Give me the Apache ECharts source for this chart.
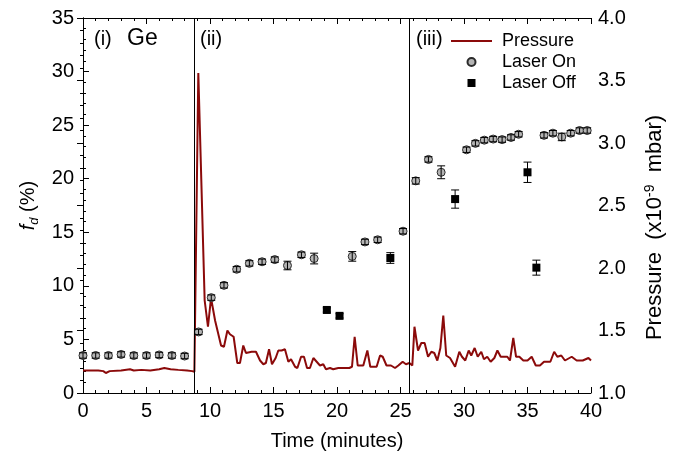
<!DOCTYPE html>
<html><head><meta charset="utf-8">
<script src="https://cdn.jsdelivr.net/npm/echarts@6/dist/echarts.min.js"></script>
<style>html,body{margin:0;padding:0;background:#fff}#c{width:679px;height:461px}</style>
</head><body><div id="c"></div>
<script>
const FONT = "'Liberation Sans', Arial, Helvetica, sans-serif";

// Pressure trace (time in minutes, pressure in 1e-9 mbar)
const pressureTime = [0,0.8,1.2,1.6,1.8,2.1,3.0,3.7,4.0,4.6,5.3,6.0,6.4,6.9,7.5,8.2,8.6,8.77,
  9.08,9.58,9.84,10.08,10.4,10.87,11.1,11.37,11.57,11.86,12.15,12.36,12.62,12.83,13.28,13.62,13.94,14.2,14.4,14.65,14.88,
  15.17,15.38,15.64,15.9,16.17,16.38,16.7,16.88,17.17,17.4,17.64,17.87,18.14,18.4,18.66,18.92,19.13,19.45,19.7,20.1,20.5,
  20.97,21.18,21.39,21.63,22.07,22.39,22.62,23.12,23.39,23.6,23.9,24.25,24.57,24.83,25.17,25.43,25.7,25.93,
  26.1,26.38,26.64,26.9,27.17,27.43,27.66,27.9,28.14,28.37,28.6,28.9,29.3,29.63,29.84,30.1,30.37,30.57,30.84,31.08,31.36,
  31.57,31.83,32.1,32.39,32.63,32.89,33.15,33.41,33.62,33.88,34.1,34.36,34.67,35.0,35.33,35.65,35.98,36.3,36.8,37.1,37.35,
  37.66,37.95,38.48,38.87,39.35,39.8,40];
const pressureValue = [1.18,1.18,1.18,1.175,1.16,1.175,1.18,1.19,1.18,1.185,1.18,1.19,1.2,1.19,1.185,1.18,1.175,1.17,
  3.56,1.74,1.53,1.76,1.58,1.38,1.37,1.50,1.47,1.45,1.24,1.24,1.38,1.32,1.33,1.33,1.26,1.23,1.24,1.35,1.23,
  1.28,1.34,1.34,1.35,1.25,1.27,1.21,1.20,1.29,1.29,1.20,1.20,1.28,1.25,1.22,1.23,1.19,1.20,1.19,1.20,1.20,
  1.20,1.21,1.45,1.22,1.22,1.34,1.21,1.21,1.30,1.29,1.22,1.22,1.20,1.22,1.25,1.23,1.24,1.22,
  1.53,1.34,1.40,1.40,1.29,1.33,1.32,1.26,1.36,1.62,1.30,1.28,1.21,1.33,1.29,1.26,1.34,1.30,1.36,1.29,1.33,
  1.27,1.29,1.25,1.28,1.34,1.29,1.29,1.29,1.26,1.44,1.29,1.29,1.26,1.26,1.29,1.22,1.22,1.25,1.25,1.33,1.29,
  1.30,1.26,1.29,1.26,1.26,1.28,1.26];

// Laser On (f_d %)
const onTime  = [0,1,2,3,4,5,6,7,8, 9.1,10.1,11.1,12.1,13.1,14.1,15.1,16.1,17.2,18.2,21.2,22.2,23.2,25.2,
  26.2,27.2,28.2,30.2,30.9,31.6,32.3,33.0,33.7,34.3,36.3,37.0,37.7,38.4,39.1,39.7];
const onValue = [3.5,3.5,3.5,3.6,3.5,3.5,3.55,3.5,3.45, 5.7,8.9,10.05,11.55,12.1,12.25,12.45,11.9,12.9,12.55,12.75,14.1,14.3,15.1,
  19.8,21.8,20.6,22.7,23.3,23.6,23.7,23.65,23.85,24.15,24.05,24.25,23.9,24.25,24.5,24.5];
const onError = [0.25,0.25,0.25,0.25,0.25,0.25,0.25,0.25,0.25, 0.25,0.25,0.25,0.25,0.25,0.25,0.25,0.4,0.25,0.5,0.45,0.25,0.25,0.25,
  0.3,0.25,0.6,0.25,0.25,0.25,0.25,0.25,0.25,0.25,0.25,0.25,0.35,0.25,0.25,0.25];

// Laser Off (f_d %)
const offTime  = [19.2,20.2,24.2,29.3,35.0,35.7];
const offValue = [7.75,7.2,12.6,18.1,20.6,11.7];
const offError = [0.2,0.2,0.5,0.85,0.95,0.7];

// Region boundaries (minutes) and labels
const regionBounds = [8.77, 25.67];
const regionLabels = ['(i)', '(ii)', '(iii)'];
const elementLabel = 'Ge';

const seriesNames = ['Pressure', 'Laser On', 'Laser Off'];

const chart = echarts.init(document.getElementById('c'), null, {renderer: 'canvas'});

function errorBars(times, vals, errs) {
  return {
    type: 'custom',
    xAxisIndex: 0, yAxisIndex: 0,
    silent: true, z: 4,
    encode: {x: 0, y: [1, 2]},
    data: times.map((t, i) => [t, vals[i] - errs[i], vals[i] + errs[i]]),
    renderItem: function (params, api) {
      const lo = api.coord([api.value(0), api.value(1)]);
      const hi = api.coord([api.value(0), api.value(2)]);
      const w = 4;
      const st = {stroke: '#000', lineWidth: 1};
      return {type: 'group', children: [
        {type: 'line', shape: {x1: lo[0], y1: lo[1], x2: hi[0], y2: hi[1]}, style: st},
        {type: 'line', shape: {x1: lo[0] - w, y1: lo[1], x2: lo[0] + w, y2: lo[1]}, style: st},
        {type: 'line', shape: {x1: hi[0] - w, y1: hi[1], x2: hi[0] + w, y2: hi[1]}, style: st}
      ]};
    }
  };
}

const tickCommon = {
  axisLine: {show: true, lineStyle: {color: '#000', width: 1}},
  axisTick: {show: true, inside: true, length: 6, lineStyle: {color: '#000', width: 1}},
  minorTick: {show: true, splitNumber: 5, length: 3, lineStyle: {color: '#000', width: 1}},
  splitLine: {show: false},
  minorSplitLine: {show: false}
};

const labelStyle = {fontSize: 20, fontFamily: FONT, color: '#000'};

const option = {
  animation: false,
  backgroundColor: '#fff',
  grid: {left: 83, right: 88, top: 18, bottom: 68, containLabel: false},
  legend: {
    orient: 'vertical', left: 451, top: 32, padding: 0,
    itemWidth: 41, itemHeight: 8, itemGap: 3,
    textStyle: {fontSize: 18, fontFamily: FONT, color: '#000', padding: [0, 0, 0, 5]},
    data: [
      {name: seriesNames[0], icon: 'path://M0,0L40,0L40,2L0,2Z'},
      {name: seriesNames[1], icon: 'circle'},
      {name: seriesNames[2], icon: 'path://M0,0L10,0L10,10L0,10Z'}
    ]
  },
  xAxis: [
    Object.assign({
      type: 'value', min: 0, max: 40, interval: 5, position: 'bottom',
      name: 'Time (minutes)', nameLocation: 'middle', nameGap: 38,
      nameTextStyle: labelStyle,
      axisLabel: Object.assign({margin: 8}, labelStyle)
    }, tickCommon),
    Object.assign({
      type: 'value', min: 0, max: 40, interval: 5, position: 'top',
      axisLabel: {show: false}
    }, tickCommon)
  ],
  yAxis: [
    Object.assign({
      type: 'value', min: 0, max: 35, interval: 5, position: 'left',
      name: '{f|f}{d|d} (%)', nameLocation: 'middle', nameGap: 42, nameRotate: 90,
      nameTextStyle: Object.assign({lineHeight: 24, rich: {
        f: {fontStyle: 'italic', fontSize: 20, fontFamily: FONT, lineHeight: 24, verticalAlign: 'middle'},
        d: {fontStyle: 'italic', fontSize: 13, fontFamily: FONT, lineHeight: 13, verticalAlign: 'bottom'}
      }}, labelStyle),
      axisLabel: Object.assign({margin: 9}, labelStyle)
    }, tickCommon),
    Object.assign({
      type: 'value', min: 1, max: 4, interval: 0.5, position: 'right',
      name: 'Pressure  (x10{s|-9}  mbar)', nameLocation: 'middle', nameGap: 52, nameRotate: 90,
      nameTextStyle: {fontSize: 22, fontFamily: FONT, color: '#000', lineHeight: 24, padding: [0, 44, 0, 0], rich: {
        s: {fontSize: 14, fontFamily: FONT, lineHeight: 14, verticalAlign: 'top'}
      }},
      axisLabel: Object.assign({margin: 7, formatter: v => v.toFixed(1)}, labelStyle)
    }, tickCommon)
  ],
  graphic: [
    {type: 'text', left: 94, top: 29, style: {text: regionLabels[0], font: '20px ' + FONT, fill: '#000'}},
    {type: 'text', left: 127, top: 27, style: {text: elementLabel, font: '23px ' + FONT, fill: '#000'}},
    {type: 'text', left: 200, top: 29, style: {text: regionLabels[1], font: '20px ' + FONT, fill: '#000'}},
    {type: 'text', left: 416, top: 29, style: {text: regionLabels[2], font: '20px ' + FONT, fill: '#000'}}
  ],
  series: [
    {
      name: seriesNames[0], type: 'line', xAxisIndex: 0, yAxisIndex: 1,
      showSymbol: false, symbol: 'none',
      lineStyle: {color: '#8B0A0A', width: 2},
      itemStyle: {color: '#8B0A0A'},
      data: pressureTime.map((t, i) => [t, pressureValue[i]]),
      z: 2,
      markLine: {
        silent: true, symbol: ['none', 'none'], animation: false,
        label: {show: false},
        lineStyle: {color: '#000', width: 1, type: 'solid'},
        data: regionBounds.map(b => ({xAxis: b}))
      }
    },
    {
      name: seriesNames[1], type: 'scatter', xAxisIndex: 0, yAxisIndex: 0,
      symbol: 'circle', symbolSize: 8, z: 3,
      itemStyle: {color: '#b4b4b4', borderColor: '#2a2a2a', borderWidth: 1, opacity: 1},
      data: onTime.map((t, i) => [t, onValue[i]])
    },
    {
      name: seriesNames[2], type: 'scatter', xAxisIndex: 0, yAxisIndex: 0,
      symbol: 'rect', symbolSize: 8, z: 3,
      itemStyle: {color: '#000', opacity: 1},
      data: offTime.map((t, i) => [t, offValue[i]])
    },
    errorBars(onTime, onValue, onError),
    errorBars(offTime, offValue, offError)
  ]
};
chart.setOption(option);
</script>
</body></html>
